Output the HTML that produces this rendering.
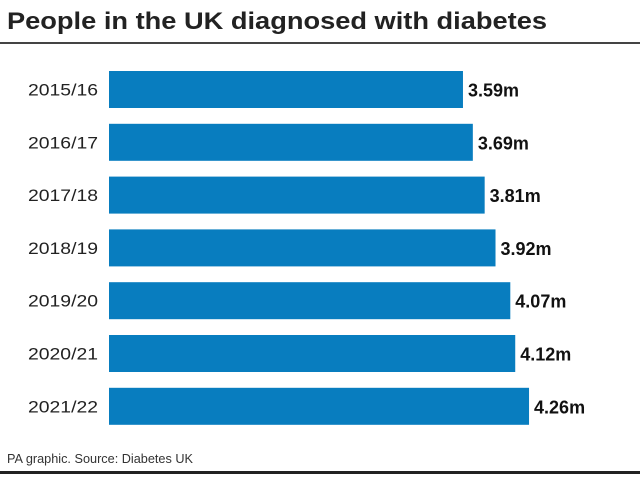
<!DOCTYPE html>
<html><head><meta charset="utf-8"><style>
body{margin:0;background:#fff;width:640px;height:476px;overflow:hidden;font-family:"Liberation Sans",sans-serif}
</style></head><body>
<svg width="640" height="476">
<text x="7" y="29" font-size="24" font-weight="bold" fill="#222" textLength="540" lengthAdjust="spacingAndGlyphs">People in the UK diagnosed with diabetes</text>
<rect x="0" y="42" width="640" height="2" fill="#444"/>
<g id="bars"></g>
<text x="7" y="463" font-size="13" fill="#333" textLength="186" lengthAdjust="spacingAndGlyphs">PA graphic. Source: Diabetes UK</text>
<rect x="0" y="471" width="640" height="3" fill="#222"/>
</svg>
<script>
const categories=["2015/16","2016/17","2017/18","2018/19","2019/20","2020/21","2021/22"];
const values=[3.59,3.69,3.81,3.92,4.07,4.12,4.26];
const labels=["3.59m","3.69m","3.81m","3.92m","4.07m","4.12m","4.26m"];
const x0=109,pxPer=98.6,top0=71,step=52.8,bh=37;
const xs=v=>x0+v*pxPer;
const ys=i=>top0+i*step;
const g=document.getElementById('bars');
const NS='http://www.w3.org/2000/svg';
categories.forEach((c,i)=>{
 const r=document.createElementNS(NS,'rect');
 r.setAttribute('x',x0);r.setAttribute('y',ys(i));
 r.setAttribute('width',xs(values[i])-x0);r.setAttribute('height',bh);
 r.setAttribute('fill','#087dbf');
 
 
 g.appendChild(r);
 const t=document.createElementNS(NS,'text');
 t.setAttribute('x',98);t.setAttribute('y',ys(i)+bh/2+6);
 t.setAttribute('text-anchor','end');t.setAttribute('font-size','17');t.setAttribute('fill','#222');
 t.setAttribute('textLength','70');t.setAttribute('lengthAdjust','spacingAndGlyphs');
 t.textContent=c;
 
 
 g.appendChild(t);
 const v=document.createElementNS(NS,'text');
 v.setAttribute('x',xs(values[i])+5);v.setAttribute('y',ys(i)+bh/2+7);
 v.setAttribute('font-size','18');v.setAttribute('font-weight','bold');v.setAttribute('fill','#111');
 v.textContent=labels[i];
 
 
 g.appendChild(v);
});
</script>
</body></html>
